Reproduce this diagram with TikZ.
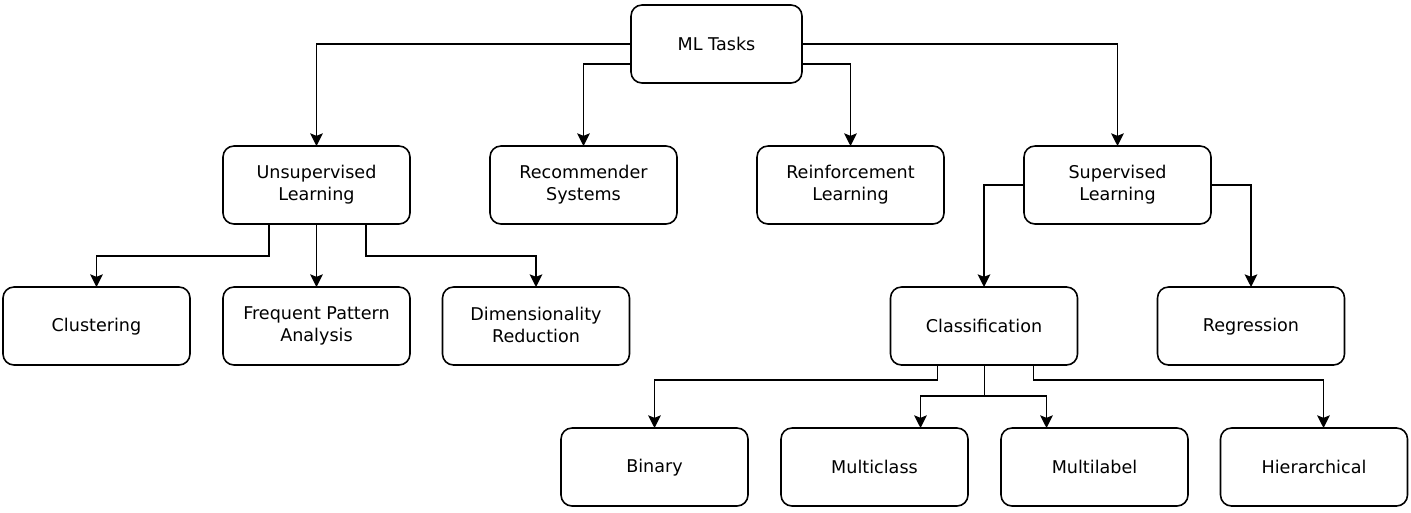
\documentclass[tikz,border=0pt]{standalone}
\usepackage{fontspec}
\setmainfont{DejaVu Sans}
\usetikzlibrary{arrows.meta,positioning}
\newcommand{\taskstrut}{\rule[-1.5pt]{0pt}{10.2pt}}

\begin{document}
\begin{tikzpicture}[
      node distance=1.26cm and 1.6cm,
      task/.style={rectangle,draw=black,line width=0.9pt,rounded corners=0.22cm,
                   outer sep=0pt,minimum width=3.74cm,minimum height=1.56cm,
                   font=\fontsize{10}{12.4}\selectfont,align=center,
                   execute at begin node=\taskstrut,execute at end node=\taskstrut},
      arr/.style={-{Stealth[length=7.2pt,width=7.2pt,inset=1.4pt]},line width=0.9pt}
    ]
      \useasboundingbox (0,0) rectangle (28.22,-10.24);

      \node[task,minimum width=3.42cm] (ml) at (14.33,-0.88) {ML Tasks};
      \node[task] (unsup) at (6.33,-3.70) {Unsupervised\\Learning};
      \node[task,right=of unsup] (rec) {Recommender\\Systems};
      \node[task,right=of rec] (rein) {Reinforcement\\Learning};
      \node[task,right=of rein] (sup) {Supervised\\Learning};

      \node[task,below=of unsup] (fpa) {Frequent Pattern\\Analysis};
      \node[task,left=0.66cm of fpa] (clust) {Clustering};
      \node[task,right=0.65cm of fpa] (dimred) {Dimensionality\\Reduction};
      \node[task,below=of sup,xshift=-2.67cm] (cls) {Classification};
      \node[task,right=of cls] (reg) {Regression};

      \node[task,below=of cls,xshift=-6.59cm] (bin) {Binary};
      \node[task,right=0.66cm of bin] (mcl) {Multiclass};
      \node[task,right=0.66cm of mcl] (mlb) {Multilabel};
      \node[task,right=0.65cm of mlb] (hier) {Hierarchical};

      \coordinate[below=0.62cm of cls.south] (split);

      \draw[arr] (ml.west) -| (unsup.north);
      \draw[arr] (ml.east) -| (sup.north);
      \draw[arr] ([yshift=-0.4cm]ml.west) -| (rec.north);
      \draw[arr] ([yshift=-0.4cm]ml.east) -| (rein.north);

      \draw[arr] (unsup.south) -- (fpa.north);
      \draw[arr] ([xshift=-0.95cm]unsup.south) -- ++(0,-0.64) -| (clust.north);
      \draw[arr] ([xshift=0.99cm]unsup.south) -- ++(0,-0.64) -| (dimred.north);

      \draw[arr] (sup.west) -| (cls.north);
      \draw[arr] (sup.east) -| (reg.north);

      \draw[arr] ([xshift=-0.93cm]cls.south) -- ++(0,-0.3) -| (bin.north);
      \draw[arr] ([xshift=0.99cm]cls.south) -- ++(0,-0.3) -| ([xshift=0.19cm]hier.north);
      \draw (cls.south) -- (split);
      \draw[arr] (split) -| ([xshift=0.92cm]mcl.north);
      \draw[arr] (split) -| ([xshift=-0.96cm]mlb.north);
    \end{tikzpicture}
\end{document}
